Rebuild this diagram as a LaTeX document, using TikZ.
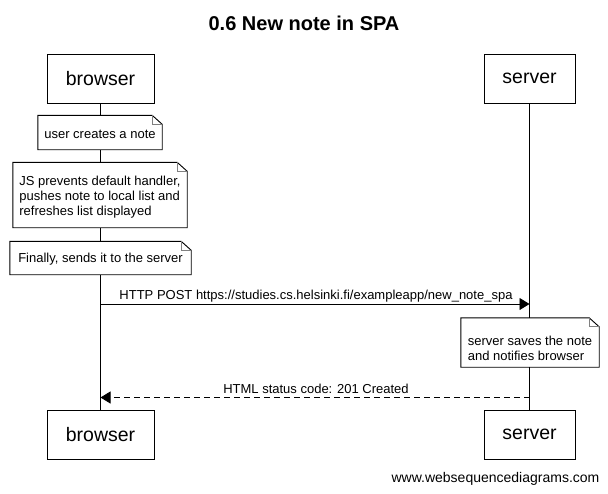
\documentclass[tikz,border=0pt]{standalone}
\usepackage{fontspec}
\setmainfont{Liberation Sans}
\usetikzlibrary{arrows.meta}
\begin{document}
\begin{tikzpicture}[x=1pt,y=-1pt,
  actor/.style={draw,line width=0.9pt,fill=white,minimum height=49pt,inner sep=0pt,
    font=\fontsize{19.5}{22}\selectfont},
  noteframe/.style={fill=white,inner sep=0pt},
  notetext/.style={inner sep=0pt,align=left,font=\fontsize{13}{15}\selectfont},
  msg/.style={line width=0.9pt,-{Triangle[length=10pt,width=12pt]}},
  lbl/.style={font=\fontsize{13}{15}\selectfont,inner sep=0pt},
  lifeline/.style={line width=0.9pt}]
\useasboundingbox (0,0) rectangle (608,493);
% note: white frame with a folded corner, text set a little below its centre
% #1 name, #2 centre, #3 width, #4 height, #5 downward text offset, #6 text
\newcommand{\foldnote}[6]{%
  \node[noteframe,minimum width=#3,minimum height=#4] (#1) at (#2) {};
  \draw[line width=0.9pt] (#1.north west) -- ([xshift=-10pt]#1.north east)
    -- ([yshift=-9pt]#1.north east) -- (#1.south east) -- (#1.south west) -- cycle;
  \draw[line width=0.7pt,gray] ([xshift=-10pt]#1.north east)
    -- ([xshift=-10pt,yshift=-9pt]#1.north east) -- ([yshift=-9pt]#1.north east);
  \node[notetext] (#1-text) at ([yshift=-#5]#1.center) {#6};}

\node[font=\fontsize{20}{24}\selectfont\bfseries] (title) at (304,23) {0.6 New note in SPA};

% participants
\node[actor,minimum width=107pt] (bt) at (100.5,78.5) {browser};
\node[actor,minimum width=91pt] (st) at (529.5,78.5) {server};
\node[actor,minimum width=107pt] (bb) at (100.5,434.5) {browser};
\node[actor,minimum width=91pt] (sb) at (529.5,434.5) {server};

% lifelines
\draw[lifeline] (bt.south) -- (bb.north);
\draw[lifeline] (st.south) -- (sb.north);

% notes over the browser
\foldnote{n1}{100,132.5}{124pt}{34pt}{2pt}{user creates a note}
\foldnote{n2}{100,195}{174pt}{65pt}{2pt}
  {JS prevents default handler,\\pushes note to local list and\\refreshes list displayed}
\foldnote{n3}{100.5,258}{181pt}{33pt}{1.5pt}{Finally, sends it to the server}

% request
\coordinate (p1) at (100.5,304);
\coordinate (p2) at (529.5,304);
\draw[msg] (p1) -- (p2);
\node[lbl] (l1) at (316,296.5) {HTTP POST https://studies.cs.helsinki.fi/exampleapp/new\_note\_spa};

% note over the server
\foldnote{n4}{530,342.5}{138pt}{49pt}{5.5pt}{server saves the note\\and notifies browser}

% response
\coordinate (r1) at (529.5,397.5);
\coordinate (r2) at (100.5,397.5);
\draw[msg,dash pattern=on 6pt off 4pt] (r1) -- (r2);
\node[lbl] (l2) at (316,388.5) {HTML status code: 201 Created};

\node[font=\fontsize{14}{16}\selectfont,inner sep=0pt] (credit) at (495.5,479) {www.websequencediagrams.com};
\end{tikzpicture}
\end{document}
